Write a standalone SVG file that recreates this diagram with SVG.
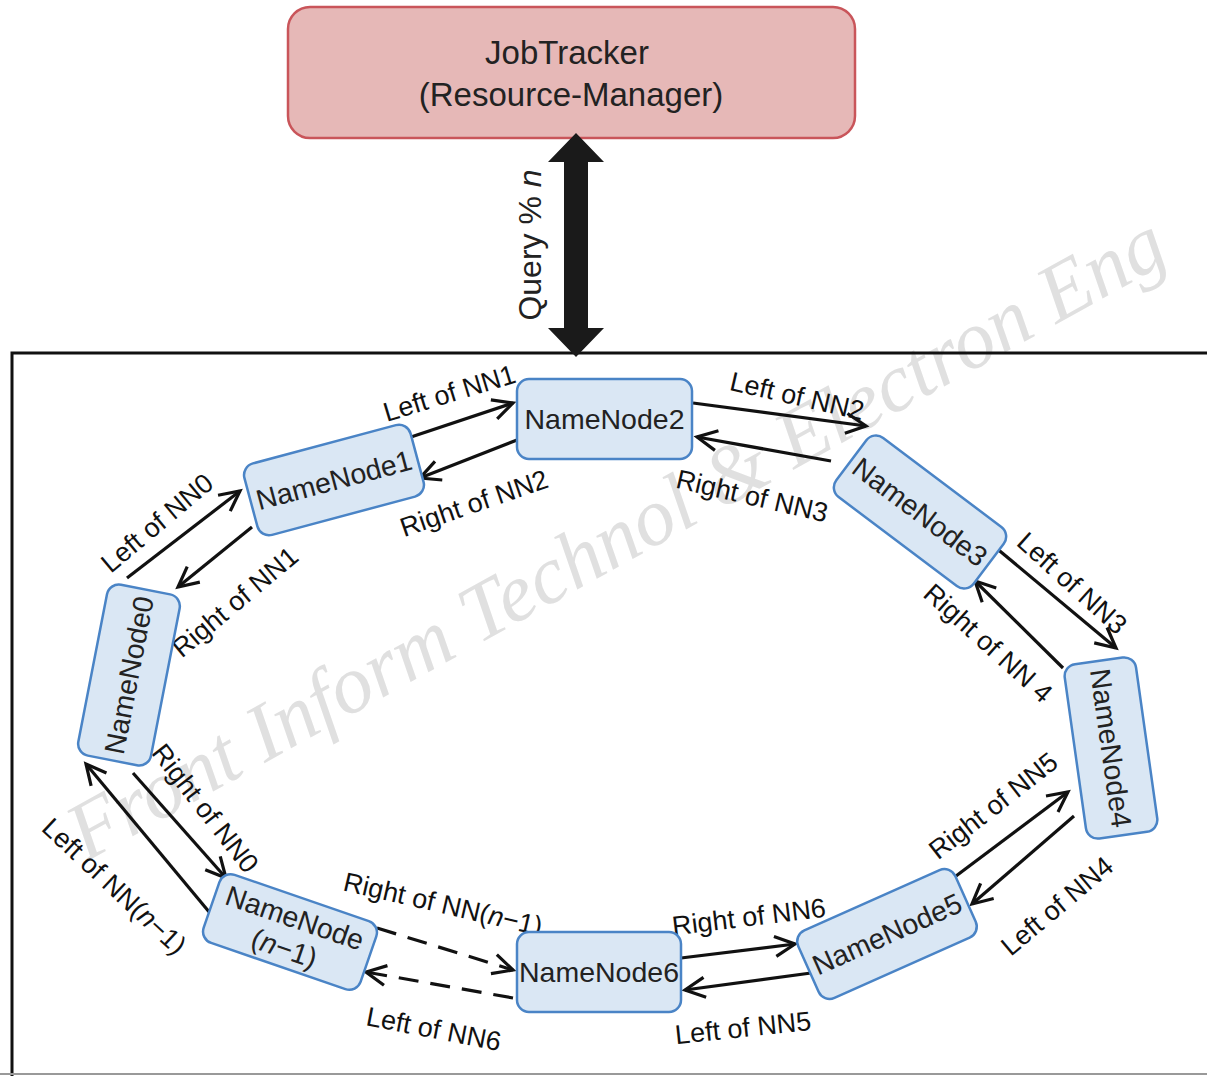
<svg xmlns="http://www.w3.org/2000/svg" width="1207" height="1076" viewBox="0 0 1207 1076">
<defs>
<style>
.node rect{fill:#dae7f4;stroke:#4a84c6;stroke-width:2.5}
.nt{font-family:"Liberation Sans",Arial,sans-serif;font-size:28.5px;fill:#222;text-anchor:middle}
.lbl{font-family:"Liberation Sans",Arial,sans-serif;font-size:27px;fill:#111;text-anchor:middle}
.cn{stroke:#111;stroke-width:3.2;fill:none;marker-end:url(#ah)}
.dash{stroke-dasharray:20 12}
.wm{font-family:"Liberation Serif","Times New Roman",serif;font-style:italic;font-size:82px;fill:#e0e0e0}
</style>
<marker id="ah" viewBox="-22 -13 26 26" refX="0" refY="0" markerWidth="26" markerHeight="26" markerUnits="userSpaceOnUse" orient="auto">
<path d="M-20,-10 L0,0 L-20,10" fill="none" stroke="#111" stroke-width="3.2"/>
</marker>
</defs>
<rect width="1207" height="1076" fill="#fff"/>
<text class="wm" x="86" y="862" transform="rotate(-29 86 862)">Front Inform Technol &amp; Electron Eng</text>
<path d="M1212,353 H12 V1076" fill="none" stroke="#111" stroke-width="3"/>
<line x1="0" y1="1074" x2="1207" y2="1074" stroke="#999" stroke-width="2"/>

<g id="jobtracker">
<rect x="288" y="7" width="567" height="131" rx="22" fill="#e6b8b7" stroke="#c9555a" stroke-width="2.5"/>
<text x="567" y="64" font-family="Liberation Sans,Arial,sans-serif" font-size="33" fill="#222" text-anchor="middle">JobTracker</text>
<text x="571" y="106" font-family="Liberation Sans,Arial,sans-serif" font-size="33" fill="#222" text-anchor="middle">(Resource-Manager)</text>
</g>

<g id="query-arrow">
<polygon points="576,133 604,162 588,162 588,328 604,328 576,357 548,328 564,328 564,162 548,162" fill="#1a1a1a"/>
<text x="0" y="0" transform="translate(541,245) rotate(-90)" font-family="Liberation Sans,Arial,sans-serif" font-size="32" fill="#222" text-anchor="middle">Query % <tspan font-style="italic">n</tspan></text>
</g>

<g id="connectors">
<line class="cn" x1="411" y1="437" x2="513" y2="403"/>
<line class="cn" x1="517" y1="440" x2="420" y2="478"/>
<line class="cn" x1="127" y1="578" x2="240" y2="491"/>
<line class="cn" x1="252" y1="527" x2="178" y2="587"/>
<line class="cn" x1="693" y1="403" x2="866" y2="426"/>
<line class="cn" x1="831" y1="461" x2="697" y2="437"/>
<line class="cn" x1="995" y1="547" x2="1116" y2="648"/>
<line class="cn" x1="1063" y1="668" x2="975" y2="581"/>
<line class="cn" x1="956" y1="876" x2="1068" y2="792"/>
<line class="cn" x1="1074" y1="816" x2="972" y2="904"/>
<line class="cn" x1="681" y1="958" x2="795" y2="944"/>
<line class="cn" x1="811" y1="973" x2="685" y2="990"/>
<line class="cn dash" x1="377" y1="928" x2="513" y2="970"/>
<line class="cn dash" x1="513" y1="998" x2="366" y2="972"/>
<line class="cn" x1="133" y1="773" x2="226" y2="878"/>
<line class="cn" x1="210" y1="913" x2="86" y2="764"/>

<text class="lbl" transform="translate(452,402) rotate(-17)">Left of NN1</text>
<text class="lbl" transform="translate(477,512) rotate(-19)">Right of NN2</text>
<text class="lbl" transform="translate(163,530) rotate(-40)">Left of NN0</text>
<text class="lbl" transform="translate(241,609) rotate(-40)">Right of NN1</text>
<text class="lbl" transform="translate(795,405) rotate(13)">Left of NN2</text>
<text class="lbl" transform="translate(750,505) rotate(13)">Right of NN3</text>
<text class="lbl" transform="translate(1066,590) rotate(42)">Left of NN3</text>
<text class="lbl" transform="translate(982,650) rotate(42)">Right of NN 4</text>
<text class="lbl" transform="translate(999,813) rotate(-38)">Right of NN5</text>
<text class="lbl" transform="translate(1063,913) rotate(-40)">Left of NN4</text>
<text class="lbl" transform="translate(750,926) rotate(-7)">Right of NN6</text>
<text class="lbl" transform="translate(744,1037) rotate(-6)">Left of NN5</text>
<text class="lbl" transform="translate(441,913) rotate(13)">Right of NN(<tspan font-style="italic">n</tspan>−1)</text>
<text class="lbl" transform="translate(432,1038) rotate(11)">Left of NN6</text>
<text class="lbl" transform="translate(198,814) rotate(52)">Right of NN0</text>
<text class="lbl" transform="translate(108,893) rotate(43)">Left of NN(<tspan font-style="italic">n</tspan>−1)</text>
</g>

<g id="nn0" class="node" transform="translate(129,675) rotate(-79)">
<rect x="-87" y="-37" width="174" height="74" rx="12"/>
<text class="nt" x="0" y="10">NameNode0</text>
</g>
<g id="nn1" class="node" transform="translate(334,480) rotate(-15)">
<rect x="-86" y="-37" width="172" height="74" rx="12"/>
<text class="nt" x="0" y="10">NameNode1</text>
</g>
<g id="nn2" class="node" transform="translate(604.5,419)">
<rect x="-87.5" y="-40" width="175" height="80" rx="12"/>
<text class="nt" x="0" y="10">NameNode2</text>
</g>
<g id="nn3" class="node" transform="translate(920,512) rotate(37)">
<rect x="-86" y="-37" width="172" height="74" rx="12"/>
<text class="nt" x="0" y="10">NameNode3</text>
</g>
<g id="nn4" class="node" transform="translate(1111,748) rotate(82)">
<rect x="-88" y="-36" width="176" height="72" rx="12"/>
<text class="nt" x="0" y="10">NameNode4</text>
</g>
<g id="nn5" class="node" transform="translate(887,934) rotate(-24)">
<rect x="-86" y="-37" width="172" height="74" rx="12"/>
<text class="nt" x="0" y="10">NameNode5</text>
</g>
<g id="nn6" class="node" transform="translate(599,972)">
<rect x="-82" y="-40" width="164" height="80" rx="12"/>
<text class="nt" x="0" y="10">NameNode6</text>
</g>
<g id="nn-n1" class="node" transform="translate(290,932) rotate(19)">
<rect x="-83" y="-36" width="166" height="72" rx="12"/>
<text class="nt" x="0" y="-5">NameNode</text>
<text class="nt" x="0" y="27">(<tspan font-style="italic">n</tspan>−1)</text>
</g>
</svg>
